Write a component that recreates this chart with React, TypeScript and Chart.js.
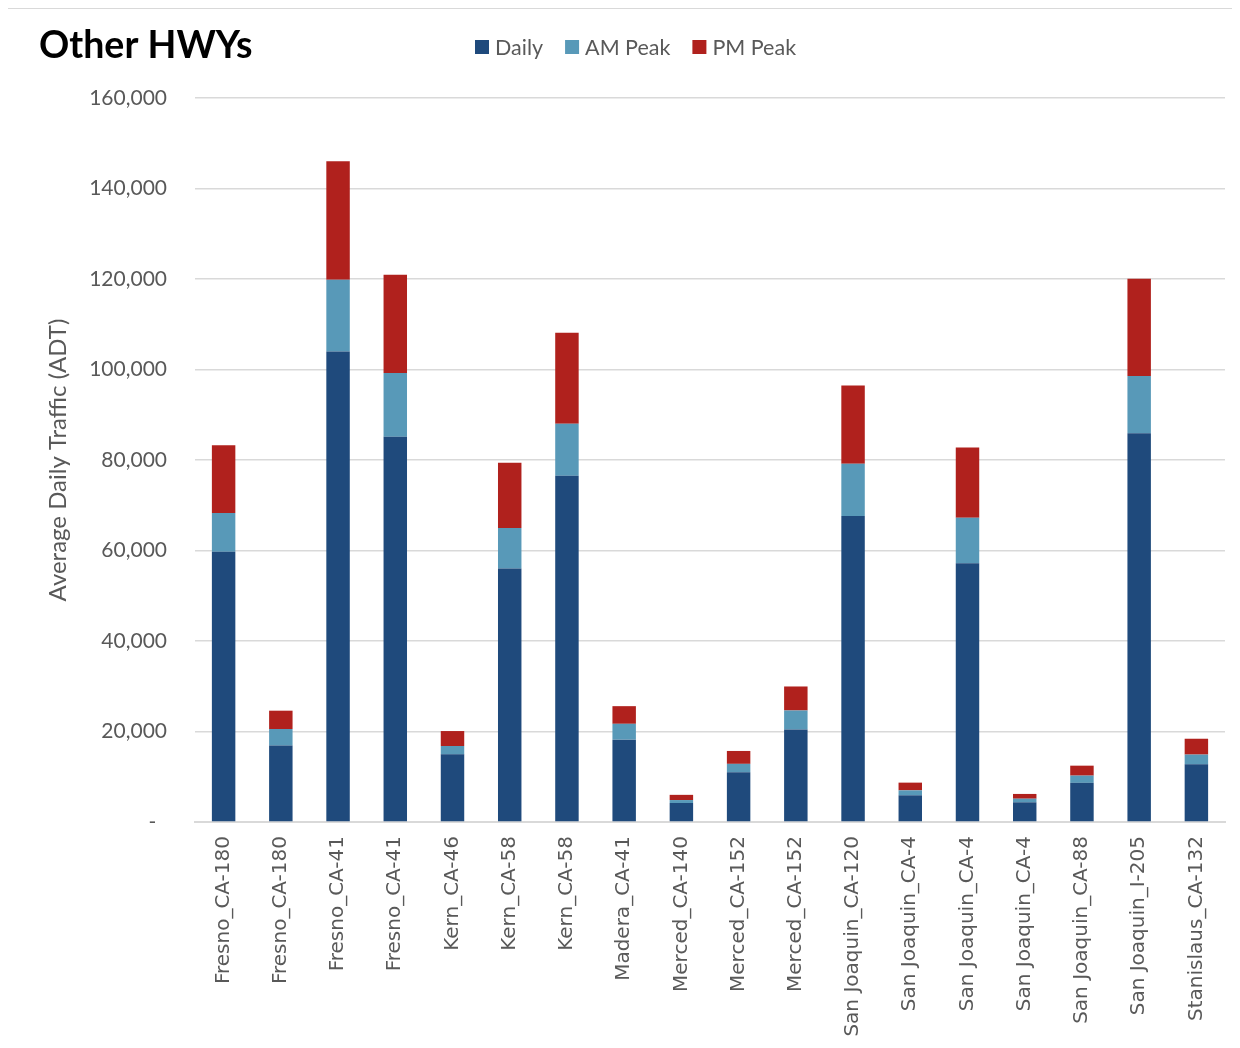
import React, { useEffect, useRef } from "react";
import { Chart, registerables } from "chart.js";

Chart.register(...registerables);

// Count locations (county_route), left to right
const locations = [
  "Fresno_CA-180",
  "Fresno_CA-180",
  "Fresno_CA-41",
  "Fresno_CA-41",
  "Kern_CA-46",
  "Kern_CA-58",
  "Kern_CA-58",
  "Madera_CA-41",
  "Merced_CA-140",
  "Merced_CA-152",
  "Merced_CA-152",
  "San Joaquin_CA-120",
  "San Joaquin_CA-4",
  "San Joaquin_CA-4",
  "San Joaquin_CA-4",
  "San Joaquin_CA-88",
  "San Joaquin_I-205",
  "Stanislaus_CA-132",
];

// Stacked segments (vehicles per day)
const dailyValues = [
  59700, 16900, 104000, 85150, 14950, 56000, 76500, 18200, 4200, 11000, 20450,
  67600, 5900, 57200, 4350, 8650, 85900, 12750,
];
const amPeakValues = [
  8600, 3650, 15850, 14100, 1850, 9000, 11500, 3500, 650, 1850, 4200, 11550,
  1100, 10050, 800, 1600, 12650, 2150,
];
const pmPeakValues = [
  14950, 4050, 26150, 21700, 3300, 14400, 20100, 3900, 1150, 2850, 5300, 17300,
  1700, 15500, 1050, 2200, 21500, 3500,
];

const seriesNames = ["Daily", "AM Peak", "PM Peak"];
const chartTitle = "Other HWYs";
const yAxisTitle = "Average Daily Traffic (ADT)";
const yMax = 160000;
const yStep = 20000;

const COLORS = ["#1f4a7c", "#5899b8", "#b0211d"];
const TEXT = "#595959";
const GRID = "#d9d9d9";
const SANS = "Lato, 'Open Sans', sans-serif";

export default function App() {
  const canvasRef = useRef<HTMLCanvasElement | null>(null);

  useEffect(() => {
    const canvas = canvasRef.current;
    if (!canvas) return;

    // Title at the top-left and a compact legend on the same line
    const headerPlugin = {
      id: "header",
      afterDraw(chart: any) {
        const { ctx } = chart;
        ctx.save();
        ctx.font = `bold 37.5px ${SANS}`;
        ctx.fillStyle = "#000000";
        ctx.textAlign = "left";
        ctx.textBaseline = "alphabetic";
        ctx.fillText(chartTitle, 31, 49);

        ctx.font = `21.5px ${SANS}`;
        ctx.textBaseline = "middle";
        const midY = 38;
        const box = 14;
        let x = 467;
        chart.data.datasets.forEach((ds: any) => {
          ctx.fillStyle = ds.backgroundColor;
          ctx.fillRect(x, midY - box / 2, box, box);
          x += box + 6;
          ctx.fillStyle = TEXT;
          ctx.fillText(ds.label, x, midY + 1);
          x += ctx.measureText(ds.label).width + 22;
        });
        ctx.restore();
      },
    };

    const chart = new Chart(canvas, {
      type: "bar",
      data: {
        labels: locations,
        datasets: [dailyValues, amPeakValues, pmPeakValues].map((vals, i) => ({
          label: seriesNames[i],
          data: vals,
          backgroundColor: COLORS[i],
          borderWidth: 0,
          categoryPercentage: 1,
          barPercentage: 0.41,
        })),
      },
      options: {
        responsive: false,
        animation: false,
        maintainAspectRatio: false,
        layout: { padding: { left: 36, right: 15, top: 89, bottom: 0 } },
        plugins: {
          tooltip: { enabled: false },
          title: { display: false },
          legend: { display: false },
        },
        scales: {
          x: {
            stacked: true,
            grid: { display: false, drawTicks: false },
            border: { display: true, color: GRID, width: 2 },
            ticks: {
              color: TEXT,
              font: { family: "'DejaVu Sans', sans-serif", size: 20 },
              minRotation: 90,
              maxRotation: 90,
              autoSkip: false,
              padding: 14,
            },
            afterFit(scale: any) {
              scale.height = 226;
            },
          },
          y: {
            stacked: true,
            min: 0,
            max: yMax,
            grid: { color: GRID, lineWidth: 1.5, drawTicks: false },
            border: { display: false },
            ticks: {
              stepSize: yStep,
              color: TEXT,
              padding: 28,
              font: { family: SANS, size: 21 },
              callback: (v: any) =>
                Number(v) === 0 ? "-  " : Number(v).toLocaleString("en-US"),
            },
            title: {
              display: true,
              text: yAxisTitle,
              color: TEXT,
              font: { family: SANS, size: 24 },
              padding: { top: 0, bottom: 0 },
            },
            afterFit(scale: any) {
              scale.width = 151;
            },
          },
        },
      },
      plugins: [headerPlugin],
    });

    return () => chart.destroy();
  }, []);

  return (
    <div
      style={{
        position: "relative",
        width: 1234,
        height: 1040,
        borderTop: `1px solid ${GRID}`,
        borderLeft: `2px solid ${GRID}`,
        boxSizing: "border-box",
        marginLeft: -2,
        background: "#ffffff",
      }}
    >
      <canvas
        ref={canvasRef}
        width={1232}
        height={1039}
        style={{ display: "block", width: 1232, height: 1039 }}
      />
    </div>
  );
}
